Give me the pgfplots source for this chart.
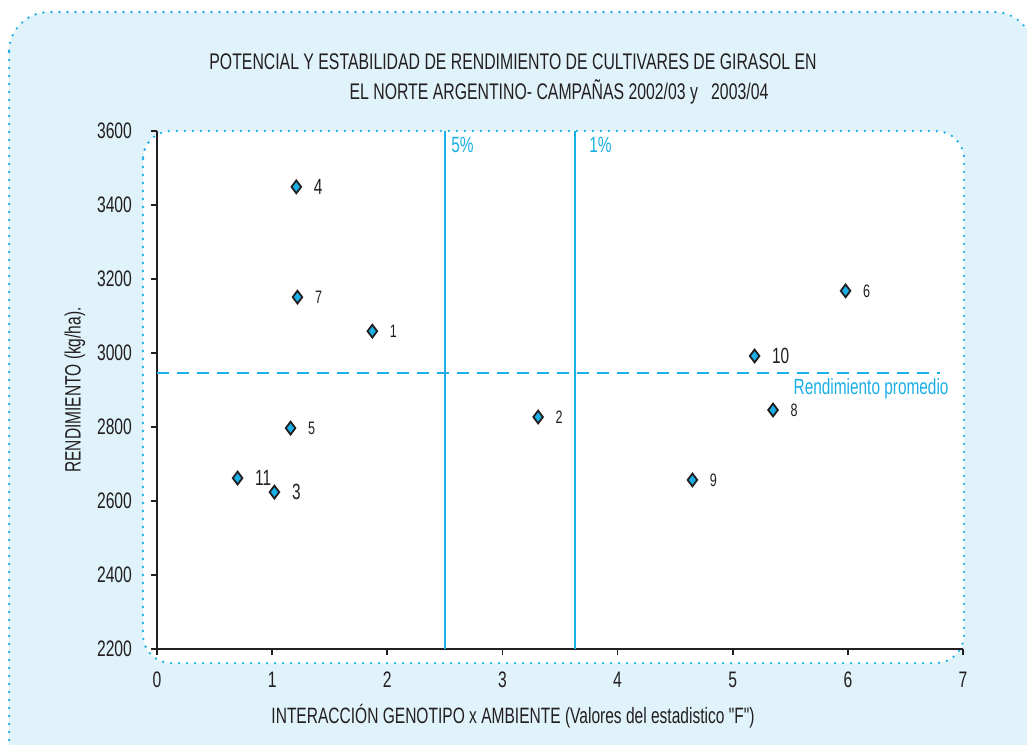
\documentclass[border=0pt]{standalone}
\usepackage{pgfplots}
\pgfplotsset{compat=1.18}
\usepackage{fontspec}
\setmainfont{Liberation Sans}[FakeStretch=0.7,Ligatures=TeXOff]
\definecolor{cy}{HTML}{1AAFE6}
\definecolor{bgblue}{HTML}{E0F2FA}
\definecolor{ink}{HTML}{231F20}

\pgfplotstableread{
x y lab
1.21 3449 4
5.19 2992 10
0.70 2662 11
1.02 2624 3
}\bigpts
\pgfplotstableread{
x y lab
1.22 3151 7
1.87 3059 1
3.31 2827 2
1.16 2797 5
4.65 2657 9
5.35 2846 8
5.98 3168 6
}\smallpts

\begin{document}
\begin{tikzpicture}
% picture frame in image pixels (1px = 0.5pt)
\begin{scope}[x=0.5pt,y=-0.5pt]
\useasboundingbox (0,0) rectangle (1027,744);
\begin{scope}
\clip (0,0) rectangle (1027,744);
\draw[cy,fill=bgblue,line width=1.3pt,dash pattern=on 0pt off 4pt,line cap=round,rounded corners=20pt]
  (9,12) rectangle (1034,782);
\end{scope}
\draw[cy,fill=white,line width=1.3pt,dash pattern=on 0pt off 4pt,line cap=round,rounded corners=14pt]
  (143,131) rectangle (964,663);
\node[ink,font=\fontsize{11.3}{13}\selectfont,anchor=base] at (513,69)
  {POTENCIAL Y ESTABILIDAD DE RENDIMIENTO DE CULTIVARES DE GIRASOL EN};
\node[ink,font=\fontsize{11.3}{13}\selectfont,anchor=base] at (559,99)
  {EL NORTE ARGENTINO- CAMPAÑAS 2002/03 y\ \ \ 2003/04};
\end{scope}

\begin{axis}[
  at={(78.5pt,-324.5pt)},anchor=south west,
  scale only axis,width=403pt,height=259pt,
  xmin=0,xmax=7,ymin=2200,ymax=3600,
  xtick={0,...,7},ytick={2200,2400,...,3600},
  axis x line*=bottom,axis y line*=left,
  axis line style={ink,line width=0.9pt,-},
  tick style={ink,line width=0.9pt},
  tick align=outside,major tick length=3pt,
  tick label style={ink,font=\fontsize{11.2}{13}\selectfont},
  /pgf/number format/assume math mode=true,
  /pgf/number format/1000 sep={},
  xticklabel style={yshift=-5pt},
  yticklabel style={xshift=-6pt},
  xlabel={INTERACCIÓN GENOTIPO x AMBIENTE (Valores del estadistico "F")},
  ylabel={RENDIMIENTO (kg/ha).},
  label style={ink,font=\fontsize{11.1}{13}\selectfont},
  xlabel style={yshift=-1.5pt,xshift=-23.5pt},
  ylabel style={yshift=-1pt},
  clip=false,
]
\addplot[cy,line width=1pt] coordinates {(2.50,2200) (2.50,3600)};
\addplot[cy,line width=1pt] coordinates {(3.63,2200) (3.63,3600)};
\addplot[cy,line width=1pt,dash pattern=on 6pt off 4pt] coordinates {(0,2946) (6.80,2946)};
\node[cy,anchor=north west,inner sep=0pt,font=\fontsize{11}{13}\selectfont] at (axis cs:2.50,3600) [xshift=3pt,yshift=-3pt] {5\%};
\node[cy,anchor=north west,inner sep=0pt,font=\fontsize{11}{13}\selectfont] at (axis cs:3.63,3600) [xshift=7pt,yshift=-3pt] {1\%};
\node[cy,anchor=base east,inner sep=0pt,font=\fontsize{11}{13}\selectfont] at (axis cs:6.80,2946) [xshift=4.5pt,yshift=-11pt] {Rendimiento promedio};
\addplot[only marks,mark=diamond*,mark size=3.2pt,mark options={draw=ink,fill=cy,line width=0.9pt},
  point meta=explicit symbolic,nodes near coords,
  every node near coord/.style={anchor=west,xshift=5pt,ink,font=\fontsize{11}{13}\selectfont}]
  table[x=x,y=y,meta=lab] {\bigpts};
\addplot[only marks,mark=diamond*,mark size=3.2pt,mark options={draw=ink,fill=cy,line width=0.9pt},
  point meta=explicit symbolic,nodes near coords,
  every node near coord/.style={anchor=west,xshift=5pt,ink,font=\fontsize{9}{11}\selectfont}]
  table[x=x,y=y,meta=lab] {\smallpts};
\end{axis}
\end{tikzpicture}
\end{document}
